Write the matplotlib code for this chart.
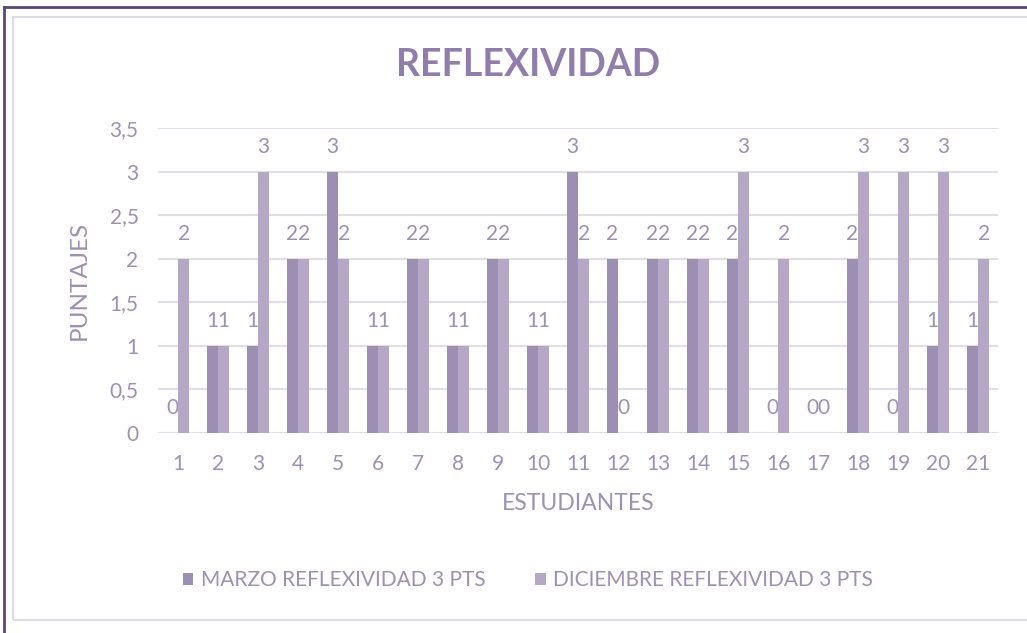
import matplotlib
matplotlib.use("Agg")
import matplotlib.pyplot as plt
import numpy as np
from matplotlib.patches import Rectangle

students = [str(i) for i in range(1, 22)]
marzo = [0, 1, 1, 2, 3, 1, 2, 1, 2, 1, 3, 2, 2, 2, 2, 0, 0, 2, 0, 1, 1]
diciembre = [2, 1, 3, 2, 2, 1, 2, 1, 2, 1, 2, 0, 2, 2, 3, 2, 0, 3, 3, 3, 2]
y_ticks = [0, 0.5, 1, 1.5, 2, 2.5, 3, 3.5]
y_tick_labels = ["0", "0,5", "1", "1,5", "2", "2,5", "3", "3,5"]

C_MARZO = "#9c8fb3"
C_DIC = "#b5a8c7"
TEXT = "#9d90b6"
GRID = "#e2dde9"
FONT = "Lato"

fig = plt.figure(figsize=(10.27, 6.33), dpi=100)
fig.patch.set_facecolor("white")

# outer frame
fig.add_artist(Rectangle((13 / 1027, 1 - 620 / 633), 1.1, (620 - 17) / 633,
                         transform=fig.transFigure, fill=False,
                         edgecolor="#dcdce3", linewidth=1.5))
fig.add_artist(plt.Line2D([4 / 1027, 1.0], [1 - 7 / 633, 1 - 7 / 633],
                          transform=fig.transFigure, color="#5b4580", linewidth=2))
fig.add_artist(plt.Line2D([4 / 1027, 4 / 1027], [0, 1 - 7 / 633],
                          transform=fig.transFigure, color="#5b4580", linewidth=2))

ax = fig.add_axes([158 / 1027, 1 - 433 / 633, (998 - 158) / 1027, (433 - 128) / 633])
x = np.arange(len(students))
w = 0.28
b1 = ax.bar(x - w / 2, marzo, w, color=C_MARZO, zorder=3, label="MARZO REFLEXIVIDAD 3 PTS")
b2 = ax.bar(x + w / 2, diciembre, w, color=C_DIC, zorder=3, label="DICIEMBRE REFLEXIVIDAD 3 PTS")

# value labels sit under the bars, so a taller neighbour bar hides part of them
for bars, vals in ((b1, marzo), (b2, diciembre)):
    for rect, v in zip(bars, vals):
        ax.annotate(str(v), (rect.get_x() + rect.get_width() / 2, v),
                    xytext=(0, 18), textcoords="offset points",
                    ha="center", va="center", fontsize=15, color=TEXT,
                    family=FONT, zorder=2)

ax.set_xlim(-0.5, len(students) - 0.5)
ax.set_ylim(0, 3.5)
ax.set_yticks(y_ticks)
ax.set_yticklabels(y_tick_labels)
ax.set_xticks(x)
ax.set_xticklabels(students)
ax.tick_params(length=0, labelsize=15, labelcolor=TEXT)
ax.tick_params(axis="x", pad=15)
ax.tick_params(axis="y", pad=14)
for lab in ax.get_xticklabels() + ax.get_yticklabels():
    lab.set_family(FONT)
ax.grid(axis="y", color=GRID, linewidth=1.5, zorder=0)
ax.set_axisbelow(True)
for s in ax.spines.values():
    s.set_visible(False)

ax.set_xlabel("ESTUDIANTES", fontsize=16.5, color=TEXT, family=FONT, labelpad=14)
ax.set_ylabel("PUNTAJES", fontsize=17.5, color=TEXT, family=FONT, labelpad=14)

fig.text(528 / 1027, 1 - 65 / 633, "REFLEXIVIDAD", ha="center", va="center",
         fontsize=27, fontweight="bold", color="#8f7dad", family=FONT)

fig.legend(handles=[b1, b2], loc="center", bbox_to_anchor=(528 / 1027, 1 - 580 / 633),
           ncol=2, frameon=False, labelcolor=TEXT,
           prop={"family": FONT, "size": 15}, handlelength=0.5, handleheight=0.5,
           handletextpad=0.35, columnspacing=2.4)

fig.savefig("out.png", dpi=100)
